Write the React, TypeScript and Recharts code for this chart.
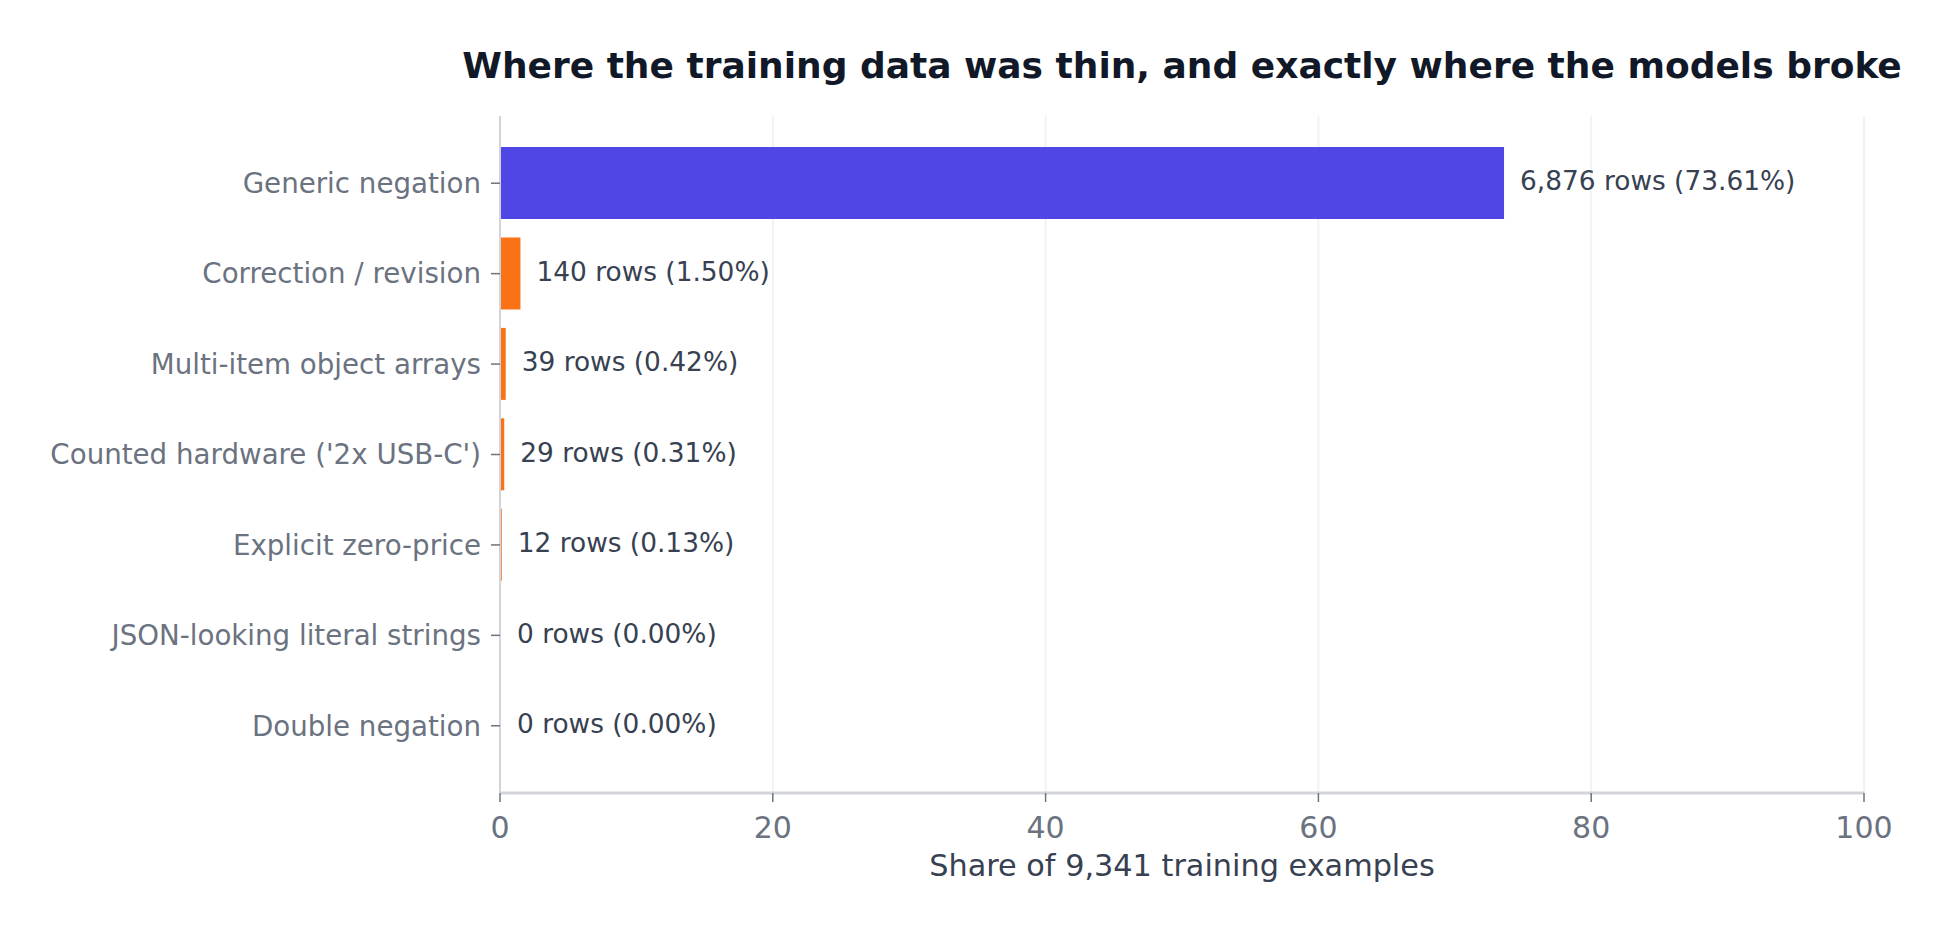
import React from "react";
import { Bar, BarChart, CartesianGrid, Cell, LabelList, XAxis, YAxis } from "recharts";

const categories = [
  "Generic negation",
  "Correction / revision",
  "Multi-item object arrays",
  "Counted hardware ('2x USB-C')",
  "Explicit zero-price",
  "JSON-looking literal strings",
  "Double negation",
];
const rowCounts = [6876, 140, 39, 29, 12, 0, 0];
const sharePct = [73.61, 1.5, 0.42, 0.31, 0.13, 0, 0];
const xTicks = [0, 20, 40, 60, 80, 100];

const FONT = "'DejaVu Sans', sans-serif";

export default function App() {
  const data = categories.map((name, i) => ({
    name,
    share: sharePct[i],
    label: `${rowCounts[i].toLocaleString("en-US")} rows (${sharePct[i].toFixed(2)}%)`,
  }));

  return (
    <div style={{ position: "relative", width: 1955, height: 932, fontFamily: FONT, background: "#fff" }}>
      <style>{"body{margin:0}"}</style>
      <div
        style={{
          position: "absolute",
          left: 182,
          width: 2000,
          top: 44,
          textAlign: "center",
          fontSize: 36,
          fontWeight: "bold",
          color: "#111827",
          lineHeight: "44px",
          whiteSpace: "nowrap",
        }}
      >
        Where the training data was thin, and exactly where the models broke
      </div>
      <BarChart
        width={1955}
        height={932}
        data={data}
        layout="vertical"
        margin={{ top: 116, right: 91, bottom: 109, left: 0 }}
        barCategoryGap="10%"
      >
        <CartesianGrid horizontal={false} stroke="#f1f2f4" strokeWidth={2} />
        <XAxis
          type="number"
          domain={[0, 100]}
          ticks={xTicks}
          height={30}
          stroke="#d1d5db"
          axisLine={{ stroke: "#d1d5db", strokeWidth: 3 }}
          tickLine={{ stroke: "#6b7280", strokeWidth: 1.5 }}
          tickSize={9}
          tickMargin={15}
          tick={{ fill: "#6b7280", fontSize: 30, fontFamily: FONT }}
          label={{
            value: "Share of 9,341 training examples",
            position: "bottom",
            offset: 31,
            fill: "#374151",
            fontSize: 30.3,
            fontFamily: FONT,
          }}
        />
        <YAxis
          type="category"
          dataKey="name"
          width={500}
          padding={{ top: 22, bottom: 22 }}
          axisLine={{ stroke: "#d1d5db", strokeWidth: 2 }}
          tickLine={{ stroke: "#6b7280", strokeWidth: 1.5 }}
          tickSize={9}
          tickMargin={10}
          interval={0}
          tick={{ fill: "#6b7280", fontSize: 27.7, fontFamily: FONT }}
        />
        <Bar dataKey="share" minPointSize={1} isAnimationActive={false}>
          {data.map((d, i) => (
            <Cell key={d.name} fill={i === 0 ? "#4f46e5" : "#f97316"} />
          ))}
          <LabelList
            dataKey="label"
            position="right"
            offset={16}
            fill="#374151"
            fontSize={26.4}
            fontFamily={FONT}
            dy={-2}
          />
        </Bar>
      </BarChart>
    </div>
  );
}
